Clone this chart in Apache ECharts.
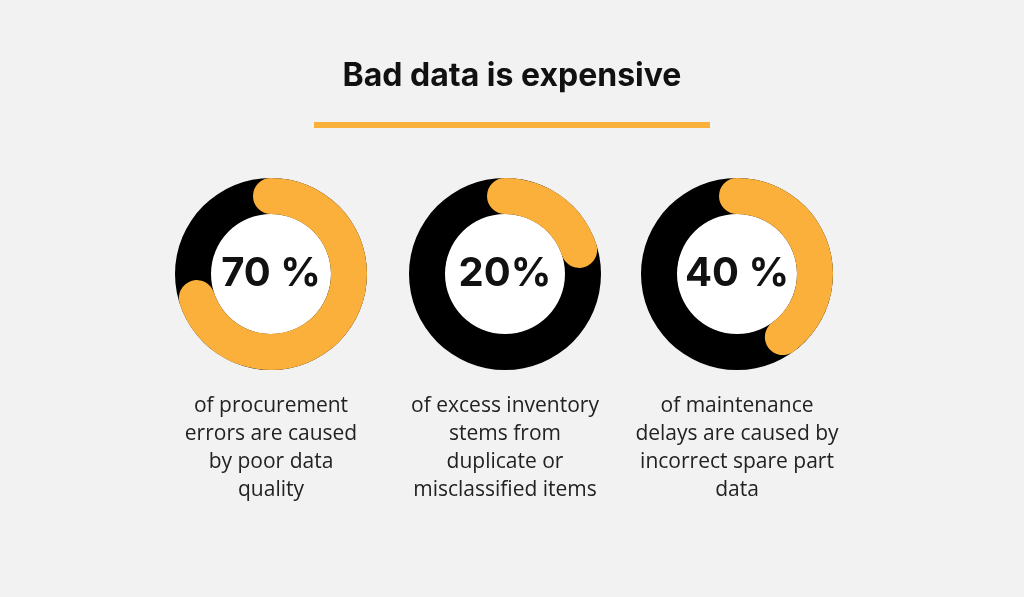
<!DOCTYPE html>
<html><head><meta charset="utf-8">
<script src="https://cdn.jsdelivr.net/npm/echarts@6/dist/echarts.min.js"></script>
<style>html,body{margin:0;background:#f2f2f2}#c{width:1024px;height:597px}</style>
</head><body><div id="c"></div>
<script>
const values = [70, 20, 40];
const valueLabels = ['70 %', '20%', '40 %'];
const captions = [
  'of procurement\nerrors are caused\nby poor data\nquality',
  'of excess inventory\nstems from\nduplicate or\nmisclassified items',
  'of maintenance\ndelays are caused by\nincorrect spare part\ndata'
];
const centersX = [271, 505, 737];
const cy = 274;
const chart = echarts.init(document.getElementById('c'));
const series = [];
values.forEach((v, i) => {
  series.push({
    type: 'pie', silent: true, radius: [0, 60], center: [centersX[i], cy],
    label: {show: false}, itemStyle: {color: '#ffffff'}, data: [1], z: 1
  });
  series.push({
    type: 'gauge', center: [centersX[i], cy], radius: 96,
    startAngle: 90, endAngle: -270, min: 0, max: 100, z: 2,
    axisLine: {lineStyle: {width: 36, color: [[1, '#000000']]}},
    progress: {show: true, width: 36, roundCap: true, itemStyle: {color: '#fbb03b'}},
    pointer: {show: false}, axisTick: {show: false}, splitLine: {show: false},
    axisLabel: {show: false}, title: {show: false},
    detail: {offsetCenter: [0, 0], formatter: () => valueLabels[i],
      fontFamily: 'Inter', fontWeight: 'bold', fontSize: 40, color: '#111'},
    data: [{value: v}]
  });
});
const graphic = [
  {type: 'text', left: 'center', top: 60, style: {text: 'Bad data is expensive',
    font: 'bold 32px Inter', fill: '#111'}},
  {type: 'rect', shape: {x: 314, y: 122, width: 396, height: 6}, style: {fill: '#fbb03b'}}
];
captions.forEach((t, i) => {
  graphic.push({type: 'text', x: centersX[i], y: 392, style: {text: t,
    font: '21px "Open Sans"', fill: '#222', align: 'center', lineHeight: 28}});
});
chart.setOption({backgroundColor: '#f2f2f2', series, graphic});
</script></body></html>
